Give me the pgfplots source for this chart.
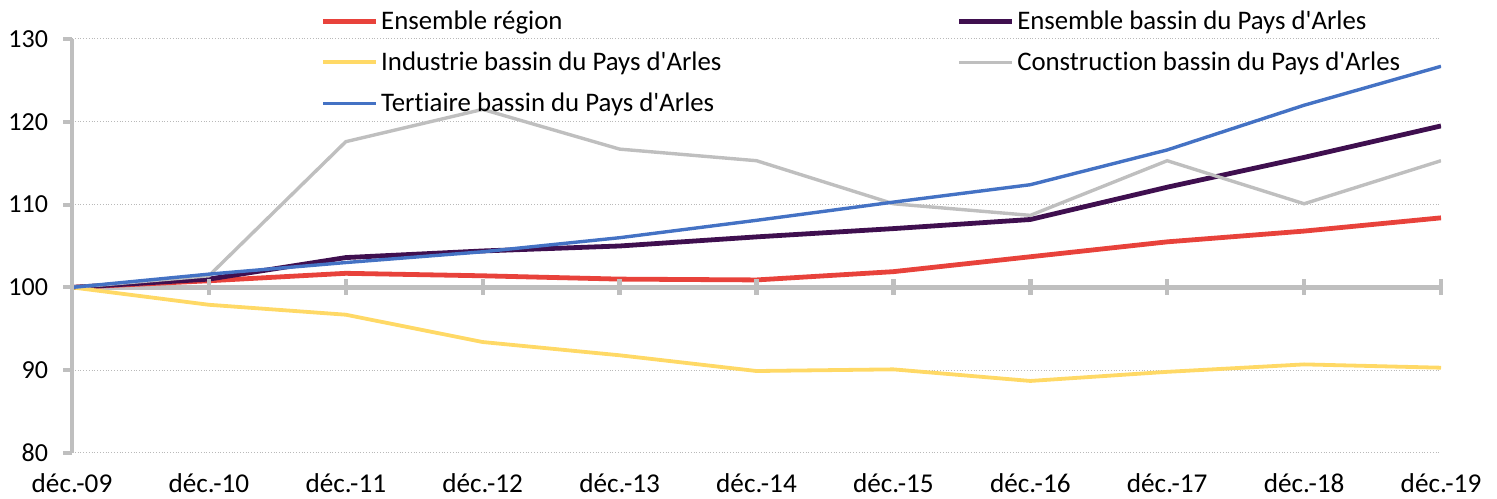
\documentclass[border=0pt]{standalone}
\usepackage{fontspec}
\setmainfont{Carlito}[Ligatures={NoCommon}]
\usepackage{pgfplots}
\pgfplotsset{compat=1.18}
\definecolor{cred}{HTML}{E8423B}
\definecolor{cpurple}{HTML}{3F0F4F}
\definecolor{cyellow}{HTML}{FFD966}
\definecolor{cgray}{HTML}{BFBFBF}
\definecolor{cblue}{HTML}{4472C4}
\definecolor{axgray}{HTML}{BFBFBF}
\begin{document}
\begin{tikzpicture}
\begin{axis}[
  scale only axis, width=684.5pt, height=207pt,
  xmin=0, xmax=10, ymin=80, ymax=130,
  axis x line*=bottom, axis y line*=left,
  x axis line style={draw=none},
  y axis line style={line width=2.2pt, color=axgray, -},
  xtick={0,1,...,10},
  xticklabels={déc.-09,déc.-10,déc.-11,déc.-12,déc.-13,déc.-14,déc.-15,déc.-16,déc.-17,déc.-18,déc.-19},
  xtick style={draw=none},
  ytick={80,90,...,130},
  ytick style={line width=2pt, color=axgray},
  tick align=outside, major tick length=4.5pt,
  ymajorgrids, grid style={densely dotted, color=gray!55, line width=0.5pt},
  yticklabel style={font=\fontsize{13}{15}\selectfont, xshift=-4pt},
  xticklabel style={font=\fontsize{13.6}{15}\selectfont, yshift=-4.5pt, inner ysep=1pt},
  /pgf/number format/assume math mode=true,
  legend columns=2,
  legend cell align=left,
  legend image code/.code={\draw[#1] (0pt,0pt) -- (26.5pt,0pt);},
  legend style={draw=none, fill=none, inner sep=0pt, anchor=north west,
    at={(rel axis cs:0.1815,1.0715)},
    font=\fontsize{13.4}{15}\selectfont,
    nodes={inner xsep=1.25pt, inner ysep=0pt, text height=10pt, text depth=1.6pt},
    row sep=8.9pt,
    /tikz/column 2/.style={column sep=116.5pt}},
]
\addplot[axgray, line width=2.2pt, mark=|, mark size=4pt, mark options={line width=2.2pt}, forget plot]
  coordinates {(0,100) (1,100) (2,100) (3,100) (4,100) (5,100) (6,100) (7,100) (8,100) (9,100) (10,100)};
\addplot[cred, line width=2.4pt] coordinates {
  (0,100) (1,100.8) (2,101.7) (3,101.4) (4,101.0) (5,100.9) (6,101.9) (7,103.7) (8,105.5) (9,106.8) (10,108.4)};
\addlegendentry{Ensemble région}
\addplot[cpurple, line width=2.4pt] coordinates {
  (0,100) (1,101.0) (2,103.6) (3,104.4) (4,105.0) (5,106.1) (6,107.1) (7,108.2) (8,112.1) (9,115.7) (10,119.5)};
\addlegendentry{Ensemble bassin du Pays d\textquotesingle Arles}
\addplot[cyellow, line width=1.9pt] coordinates {
  (0,100) (1,97.9) (2,96.7) (3,93.4) (4,91.8) (5,89.9) (6,90.1) (7,88.7) (8,89.8) (9,90.7) (10,90.3)};
\addlegendentry{Industrie bassin du Pays d\textquotesingle Arles}
\addplot[cgray, line width=1.7pt] coordinates {
  (0,100) (1,101.4) (2,117.6) (3,121.5) (4,116.7) (5,115.3) (6,110.1) (7,108.7) (8,115.3) (9,110.1) (10,115.3)};
\addlegendentry{Construction bassin du Pays d\textquotesingle Arles}
\addplot[cblue, line width=1.7pt] coordinates {
  (0,100) (1,101.6) (2,103.0) (3,104.3) (4,106.0) (5,108.1) (6,110.3) (7,112.4) (8,116.6) (9,122.0) (10,126.7)};
\addlegendentry{Tertiaire bassin du Pays d\textquotesingle Arles}
\coordinate (A) at (rel axis cs:0,0);
\coordinate (B) at (rel axis cs:1,1);
\end{axis}
\pgfresetboundingbox
\path ([shift={(-36pt,-23pt)}]A) rectangle ([shift={(28pt,19.5pt)}]B);
\end{tikzpicture}
\end{document}
